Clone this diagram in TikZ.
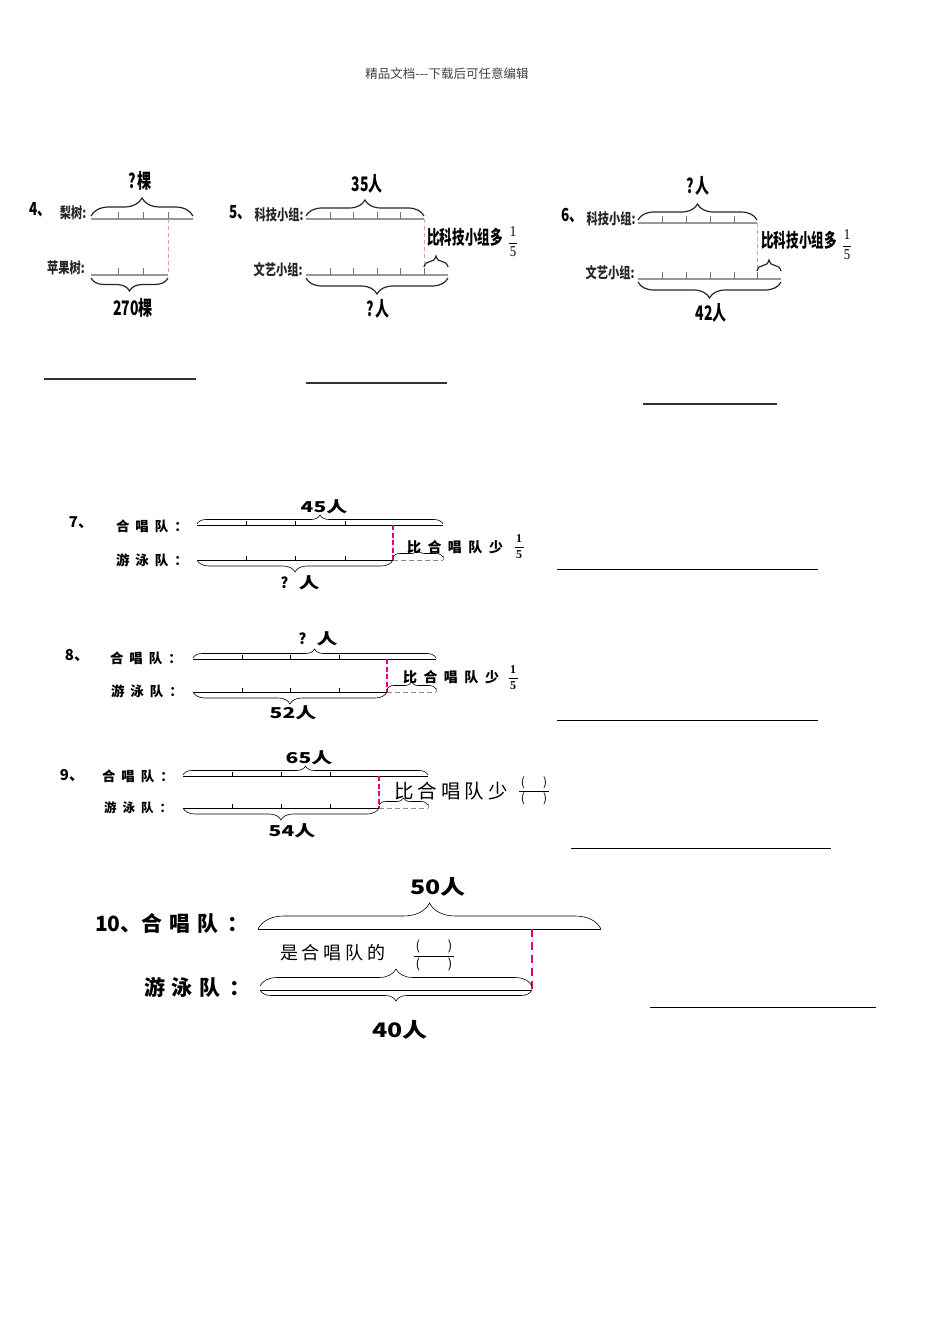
\documentclass[tikz,border=0pt]{standalone}
\usepackage{fontspec}
\usepackage{graphicx}
\setmainfont{Noto Sans CJK SC}
\newfontfamily\serifd{Liberation Serif}
\usetikzlibrary{decorations.pathreplacing}
\newcommand{\cnd}[2]{\scalebox{#1}[1]{#2}}
\newcommand{\fsz}[1]{\fontsize{#1}{#1}\selectfont}
\newcommand{\vfr}[3]{{\fontsize{#1}{#1}\selectfont\renewcommand{\arraystretch}{1.3}\setlength{\tabcolsep}{1.5pt}\begin{tabular}{c}#2\\\hline#3\end{tabular}}}
\definecolor{pinkL}{RGB}{240,150,185}
\definecolor{pinkB}{RGB}{226,0,122}
\begin{document}
\begin{tikzpicture}[x=1pt,y=-1pt,
  txt/.style={inner sep=0pt, outer sep=0pt},
  bar46/.style={draw=black!40, line width=1.6pt},
  tk46/.style={draw=black!55, line width=0.6pt},
  br46/.style={decorate, decoration={brace, amplitude=#1}, draw=black!85, line width=1.2pt},
  br46m/.style={decorate, decoration={brace, amplitude=#1, mirror}, draw=black!85, line width=1.2pt},
  pinkl/.style={draw=pinkL, line width=0.7pt, dash pattern=on 4pt off 3pt},
  pinkb/.style={draw=pinkB, line width=1.6pt, dash pattern=on 5pt off 2.5pt},
  bar79/.style={draw=black, line width=0.6pt},
  tk79/.style={draw=black, line width=0.6pt},
  br79/.style={decorate, decoration={brace, amplitude=#1}, draw=black, line width=0.6pt},
  br79m/.style={decorate, decoration={brace, amplitude=#1, mirror}, draw=black, line width=0.6pt},
  ext/.style={draw=black!45, line width=0.8pt, dash pattern=on 5pt off 3pt},
  ans46/.style={draw=black!80, line width=1.8pt},
  ans/.style={draw=black, line width=0.7pt},
  num46/.style={txt, font=\fsz{18}\bfseries},
  row46/.style={txt, font=\fsz{15}\bfseries, text=black!85},
  val46/.style={txt, font=\fsz{20}\bfseries},
  cmp46/.style={txt, font=\fsz{19}\bfseries},
  num79/.style={txt, font=\fsz{15}\bfseries},
  row79/.style={txt, font=\fsz{13.5}\bfseries},
  val79/.style={txt, font=\fsz{15}\bfseries},
  cmp79/.style={txt, font=\fsz{14}\bfseries}
]
\fill[white] (0,0) rectangle (950,1344);
\useasboundingbox (0,0) rectangle (950,1344);

\node[txt, font=\fsz{12.5}, text=black!75] (hdr) at (447,74) {精品文档-{}-{}-下载后可任意编辑};

% ---------- 4 ----------
\node[num46] (n4) at (40,210) {\cnd{0.75}{4、}};
\node[row46] (l4a) at (73,213) {\cnd{0.75}{梨树:}};
\node[val46] (v4a) at (140,181) {\cnd{0.7}{?\,棵}};
\coordinate (p4a) at (91,219); \coordinate (q4a) at (193,219);
\draw[bar46] (p4a) -- (q4a);
\foreach \x in {118,143,168} \draw[tk46] (\x,219) -- (\x,212);
\draw[br46=18pt] ([yshift=3pt]p4a) -- ([yshift=3pt]q4a);
\coordinate (d4a) at (168,219); \coordinate (d4b) at (168,275);
\draw[pinkl] (d4a) -- (d4b);
\node[row46] (l4b) at (66,268) {\cnd{0.75}{苹果树:}};
\coordinate (p4b) at (91,275); \coordinate (q4b) at (168,275);
\draw[bar46] (p4b) -- (q4b);
\foreach \x in {118,143} \draw[tk46] (\x,275) -- (\x,268);
\draw[br46m=13pt] ([yshift=-3pt]p4b) -- ([yshift=-3pt]q4b);
\node[val46] (v4b) at (133,308) {\cnd{0.7}{270棵}};
\coordinate (s4) at (44,379); \coordinate (t4) at (196,379);
\draw[ans46] (s4) -- (t4);

% ---------- 5 ----------
\node[num46] (n5) at (240,213) {\cnd{0.75}{5、}};
\node[row46] (l5a) at (279,215) {\cnd{0.75}{科技小组:}};
\node[val46] (v5a) at (367,184) {\cnd{0.7}{35人}};
\coordinate (p5a) at (306,219); \coordinate (q5a) at (424,219);
\draw[bar46] (p5a) -- (q5a);
\foreach \x in {330,353,377,400} \draw[tk46] (\x,219) -- (\x,212);
\draw[br46=16pt] ([yshift=3pt]p5a) -- ([yshift=3pt]q5a);
\coordinate (d5a) at (424,219); \coordinate (d5b) at (424,275);
\draw[pinkl] (d5a) -- (d5b);
\node[cmp46] (c5) at (465,237) {\cnd{0.66}{比科技小组多}};
\node[txt, font=\serifd] (f5) at (513,243) {\cnd{0.85}{\vfr{15}{1}{5}}};
\node[row46] (l5b) at (278,270) {\cnd{0.75}{文艺小组:}};
\coordinate (p5b) at (306,275); \coordinate (q5b) at (448,275);
\draw[bar46] (p5b) -- (q5b);
\foreach \x in {330,353,377,400,424} \draw[tk46] (\x,275) -- (\x,268);
\draw[br46=11pt] ([yshift=8pt]d5b) -- ([yshift=8pt]q5b);
\draw[br46m=16pt] ([yshift=-3pt]p5b) -- ([yshift=-3pt]q5b);
\node[val46] (v5b) at (378,309) {\cnd{0.7}{?\,人}};
\coordinate (s5) at (306,383); \coordinate (t5) at (447,383);
\draw[ans46] (s5) -- (t5);

% ---------- 6 ----------
\node[num46] (n6) at (572,216) {\cnd{0.75}{6、}};
\node[row46] (l6a) at (611,219) {\cnd{0.75}{科技小组:}};
\node[val46] (v6a) at (698,186) {\cnd{0.7}{?\,人}};
\coordinate (p6a) at (638,223); \coordinate (q6a) at (757,223);
\draw[bar46] (p6a) -- (q6a);
\foreach \x in {662,686,710,734} \draw[tk46] (\x,223) -- (\x,216);
\draw[br46=16pt] ([yshift=3pt]p6a) -- ([yshift=3pt]q6a);
\coordinate (d6a) at (757,223); \coordinate (d6b) at (757,279);
\draw[pinkl] (d6a) -- (d6b);
\node[cmp46] (c6) at (799,240) {\cnd{0.66}{比科技小组多}};
\node[txt, font=\serifd] (f6) at (847,246) {\cnd{0.85}{\vfr{15}{1}{5}}};
\node[row46] (l6b) at (610,273) {\cnd{0.75}{文艺小组:}};
\coordinate (p6b) at (638,279); \coordinate (q6b) at (781,279);
\draw[bar46] (p6b) -- (q6b);
\foreach \x in {662,686,710,734,757} \draw[tk46] (\x,279) -- (\x,272);
\draw[br46=11pt] ([yshift=8pt]d6b) -- ([yshift=8pt]q6b);
\draw[br46m=16pt] ([yshift=-3pt]p6b) -- ([yshift=-3pt]q6b);
\node[val46] (v6b) at (711,313) {\cnd{0.7}{42人}};
\coordinate (s6) at (643,404); \coordinate (t6) at (777,404);
\draw[ans46] (s6) -- (t6);

% ---------- 7 ----------
\node[num79] (n7) at (81,523) {7、};
\node[row79] (l7a) at (152,526) {合\hspace{6pt}唱\hspace{6pt}队\hspace{6pt}：};
\node[val79] (v7a) at (324,507) {\scalebox{1.4}[1]{45人}};
\coordinate (p7a) at (197,525); \coordinate (q7a) at (443,525);
\draw[bar79] (p7a) -- (q7a);
\foreach \x in {246,295,345} \draw[tk79] (\x,525) -- (\x,521);
\draw[br79=9pt] ([yshift=1pt]p7a) -- ([yshift=1pt]q7a);
\coordinate (d7a) at (393,525); \coordinate (d7b) at (393,560);
\draw[pinkb] (d7a) -- (d7b);
\node[cmp79] (c7) at (455,547) {比\hspace{6.5pt}合\hspace{6.5pt}唱\hspace{6.5pt}队\hspace{6.5pt}少};
\node[txt, font=\serifd\bfseries] (f7) at (519,547) {\vfr{12}{1}{5}};
\node[row79] (l7b) at (152,560) {游\hspace{6pt}泳\hspace{6pt}队\hspace{6pt}：};
\coordinate (p7b) at (197,560); \coordinate (q7b) at (443,560);
\draw[bar79] (p7b) -- (d7b);
\foreach \x in {246,295,345} \draw[tk79] (\x,560) -- (\x,556);
\draw[ext] (d7b) -- (q7b);
\draw[ext, solid] (q7b) -- ([yshift=4pt]q7b);
\draw[br79=7pt] ([yshift=3pt]d7b) -- ([yshift=3pt]q7b);
\draw[br79m=12pt] (p7b) -- (d7b);
\node[val79] (v7b) at (300,583) {?\hspace{10pt}\scalebox{1.4}[1]{人}};
\coordinate (s7) at (557,569); \coordinate (t7) at (818,569);
\draw[ans] (s7) -- (t7);

% ---------- 8 ----------
\node[num79] (n8) at (77,656) {8、};
\node[row79] (l8a) at (146,658) {合\hspace{6pt}唱\hspace{6pt}队\hspace{6pt}：};
\node[val79] (v8a) at (318,639) {?\hspace{10pt}\scalebox{1.4}[1]{人}};
\coordinate (p8a) at (193,659); \coordinate (q8a) at (436,659);
\draw[bar79] (p8a) -- (q8a);
\foreach \x in {242,290,339} \draw[tk79] (\x,659) -- (\x,655);
\draw[br79=9pt] ([yshift=1pt]p8a) -- ([yshift=1pt]q8a);
\coordinate (d8a) at (387,659); \coordinate (d8b) at (387,692);
\draw[pinkb] (d8a) -- (d8b);
\node[cmp79] (c8) at (451,677) {比\hspace{6.5pt}合\hspace{6.5pt}唱\hspace{6.5pt}队\hspace{6.5pt}少};
\node[txt, font=\serifd\bfseries] (f8) at (513,678) {\vfr{12}{1}{5}};
\node[row79] (l8b) at (147,691) {游\hspace{6pt}泳\hspace{6pt}队\hspace{6pt}：};
\coordinate (p8b) at (193,692); \coordinate (q8b) at (436,692);
\draw[bar79] (p8b) -- (d8b);
\foreach \x in {242,290,339} \draw[tk79] (\x,692) -- (\x,688);
\draw[ext] (d8b) -- (q8b);
\draw[ext, solid] (q8b) -- ([yshift=4pt]q8b);
\draw[br79=7pt] ([yshift=3pt]d8b) -- ([yshift=3pt]q8b);
\draw[br79m=12pt] (p8b) -- (d8b);
\node[val79] (v8b) at (293,713) {\scalebox{1.4}[1]{52人}};
\coordinate (s8) at (557,720); \coordinate (t8) at (818,720);
\draw[ans] (s8) -- (t8);

% ---------- 9 ----------
\node[num79] (n9) at (72,776) {9、};
\node[row79] (l9a) at (138,776) {合\hspace{6pt}唱\hspace{6pt}队\hspace{6pt}：};
\node[val79] (v9a) at (309,758) {\scalebox{1.4}[1]{65人}};
\coordinate (p9a) at (183,776); \coordinate (q9a) at (428,776);
\draw[bar79] (p9a) -- (q9a);
\foreach \x in {232,281,330} \draw[tk79] (\x,776) -- (\x,772);
\draw[br79=9pt] ([yshift=1pt]p9a) -- ([yshift=1pt]q9a);
\coordinate (d9a) at (379,776); \coordinate (d9b) at (379,808);
\draw[pinkb] (d9a) -- (d9b);
\node[txt, font=\fsz{19.5}] (c9) at (451,791) {比\hspace{4pt}合\hspace{4pt}唱\hspace{4pt}队\hspace{4pt}少};
\node[txt] (f9) at (534,791) {\vfr{12}{(\hspace{18pt})}{(\hspace{18pt})}};
\node[row79, font=\fsz{12.5}\bfseries] (l9b) at (138,808) {游\hspace{6pt}泳\hspace{6pt}队\hspace{6pt}：};
\coordinate (p9b) at (183,808); \coordinate (q9b) at (428,808);
\draw[bar79] (p9b) -- (d9b);
\foreach \x in {232,281,330} \draw[tk79] (\x,808) -- (\x,804);
\draw[ext] (d9b) -- (q9b);
\draw[ext, solid] (q9b) -- ([yshift=4pt]q9b);
\draw[br79=7pt] ([yshift=3pt]d9b) -- ([yshift=3pt]q9b);
\draw[br79m=12pt] (p9b) -- (d9b);
\node[val79] (v9b) at (292,831) {\scalebox{1.4}[1]{54人}};
\coordinate (s9) at (571,848); \coordinate (t9) at (831,848);
\draw[ans] (s9) -- (t9);

% ---------- 10 ----------
\node[txt, font=\fsz{21}\bfseries, anchor=west] (l10a) at (95,923) {10、合\hspace{7pt}唱\hspace{7pt}队\hspace{9pt}：};
\node[txt, font=\fsz{20}\bfseries] (v10a) at (438,887) {\scalebox{1.25}[1]{50人}};
\coordinate (p10a) at (258,929); \coordinate (q10a) at (601,929);
\draw[bar79] (p10a) -- (q10a);
\draw[br79=26pt] (p10a) -- (q10a);
\coordinate (d10a) at (532,929); \coordinate (d10b) at (532,990);
\draw[pinkb, line width=2pt, dash pattern=on 8pt off 5pt] (d10a) -- (d10b);
\node[txt, font=\fsz{18}, anchor=west] (c10) at (280,953) {是\hspace{4pt}合\hspace{4pt}唱\hspace{4pt}队\hspace{4pt}的};
\node[txt] (f10) at (434,956) {\vfr{13}{(\hspace{28pt})}{(\hspace{28pt})}};
\node[txt, font=\fsz{21}\bfseries, anchor=west] (l10b) at (144,987) {游\hspace{7pt}泳\hspace{7pt}队\hspace{9pt}：};
\coordinate (p10b) at (260,990); \coordinate (q10b) at (532,990);
\draw[bar79] (p10b) -- (q10b);
\draw[br79=17pt] ([yshift=4pt]p10b) -- ([yshift=4pt]q10b);
\draw[br79m=11pt] (p10b) -- (q10b);
\node[txt, font=\fsz{20}\bfseries] (v10b) at (400,1030) {\scalebox{1.25}[1]{40人}};
\coordinate (s10) at (650,1007); \coordinate (t10) at (876,1007);
\draw[ans] (s10) -- (t10);
\end{tikzpicture}
\end{document}
